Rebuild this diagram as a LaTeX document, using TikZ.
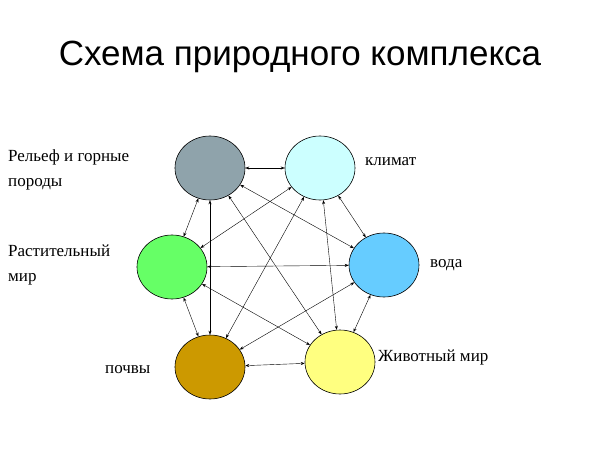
\documentclass[tikz,border=0pt]{standalone}
\usepackage{fontspec}
\setmainfont{Liberation Serif}
\newfontfamily\titlefont{Liberation Sans}
\usetikzlibrary{shapes.geometric,arrows.meta}
\tikzset{
 blob/.style={ellipse,draw=black,line width=0.6pt,minimum width=70pt,minimum height=64pt,inner sep=0pt},
 lbl/.style={font=\fontsize{17}{25}\selectfont,align=left,inner sep=0pt},
 link/.style={line width=0.4pt,{Stealth[length=4pt,width=3pt]}-{Stealth[length=4pt,width=3pt]}}
}
\definecolor{cRel}{HTML}{8FA3AB}
\definecolor{cCli}{HTML}{CCFFFF}
\definecolor{cPla}{HTML}{66FF66}
\definecolor{cWat}{HTML}{66CCFF}
\definecolor{cSoi}{HTML}{CC9900}
\definecolor{cAni}{HTML}{FFFF80}
\begin{document}
\begin{tikzpicture}[x=1pt,y=-1pt]
\useasboundingbox[fill=white] (0,0) rectangle (600,450);
\node (title) at (300,57) {\titlefont\fontsize{35}{40}\selectfont Схема природного комплекса};
\node[blob,fill=cRel] (rel) at (210,168) {};
\node[blob,fill=cCli] (cli) at (320,168) {};
\node[blob,fill=cPla] (pla) at (172,267) {};
\node[blob,fill=cWat] (wat) at (384,265) {};
\node[blob,fill=cSoi] (soi) at (210,367) {};
\node[blob,fill=cAni] (ani) at (340,362) {};
\node[lbl,anchor=west] (lrel) at (8,170) {Рельеф и горные\\породы};
\node[lbl,anchor=west] (lcli) at (365,162) {климат};
\node[lbl,anchor=west] (lpla) at (8,265) {Растительный\\мир};
\node[lbl,anchor=west] (lwat) at (430,265) {вода};
\node[lbl,anchor=west] (lsoi) at (105,370) {почвы};
\node[lbl,anchor=west] (lani) at (378,357) {Животный мир};
\foreach \a/\b in {rel/cli,rel/pla,rel/wat,rel/soi,rel/ani,cli/pla,cli/wat,cli/soi,cli/ani,pla/wat,pla/soi,pla/ani,wat/soi,wat/ani,soi/ani}
  \draw[link] (\a) -- (\b);
\end{tikzpicture}
\end{document}
